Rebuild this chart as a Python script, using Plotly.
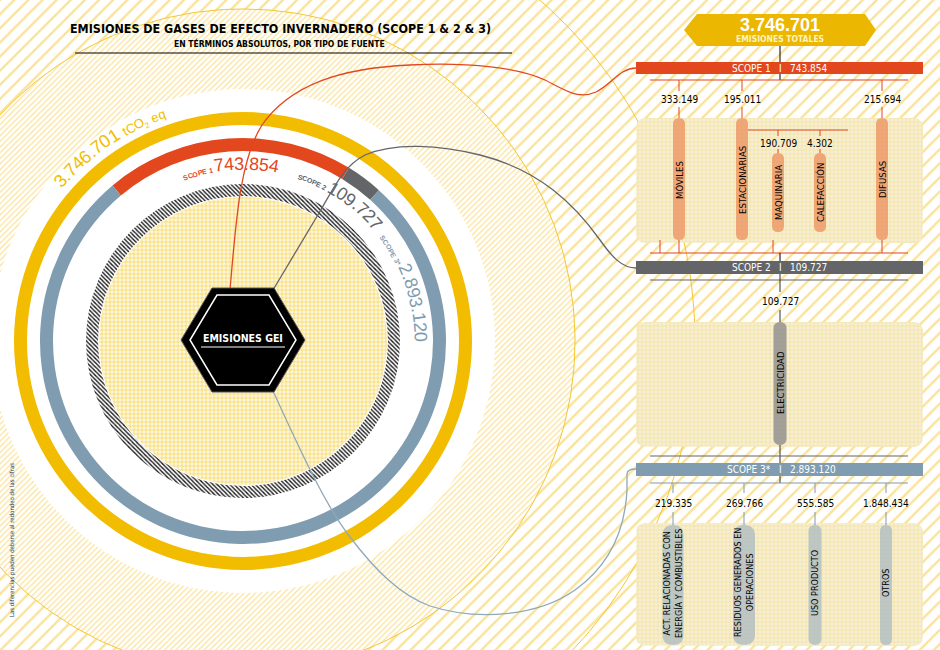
import numpy as np
import plotly.graph_objects as go

# ---------------- DATA ----------------
scope_names = ["SCOPE 1", "SCOPE 2", "SCOPE 3*"]
scope_values = [743854, 109727, 2893120]
scope1_sources = ["MÓVILES", "ESTACIONARIAS", "DIFUSAS"]
scope1_values = [333149, 195011, 215694]
stationary_sources = ["MAQUINARIA", "CALEFACCIÓN"]
stationary_values = [190709, 4302]
scope2_sources = ["ELECTRICIDAD"]
scope2_values = [109727]
scope3_sources = ["ACT. RELACIONADAS CON<br>ENERGÍA Y COMBUSTIBLES",
                  "RESIDUOS GENERADOS EN<br>OPERACIONES", "USO PRODUCTO", "OTROS"]
scope3_values = [219335, 269766, 555585, 1848434]
total_value = sum(scope_values)

title_text = "EMISIONES DE GASES DE EFECTO INVERNADERO (SCOPE 1 & 2 & 3)"
subtitle_text = "EN TÉRMINOS ABSOLUTOS, POR TIPO DE FUENTE"
center_text = "EMISIONES GEI"
unit_text = "tCO"
note_text = "Las diferencias pueden deberse al redondeo de las cifras"


def fmt(v):
    return f"{v:,}".replace(",", ".")


# ---------------- STYLE / LAYOUT CONSTANTS ----------------
W, H = 940, 650
RED, GRAY, BLUE, GOLD = "#e2471e", "#646569", "#7f9cb0", "#f2bd00"
STRIPE = "#f5c630"
COND = "Liberation Sans Narrow, DejaVu Sans Condensed, Roboto Condensed, Roboto, sans-serif"
ARIAL = "Liberation Sans, Arial, sans-serif"
CX, CY = 243, 341
R_YELLOW = (216, 229)
R_SCOPE = (190, 203)
R_HATCH = (145, 157)
R_WHITE, R_BAND, R_BIG = 252, 332, 452
SCOPE_START = -40

fig = go.Figure()


def circle_xy(r, n=361):
    t = np.linspace(0, 2 * np.pi, n)
    return CX + r * np.sin(t), CY - r * np.cos(t)


def rrect_pts(x0, y0, x1, y1, r, n=10):
    xs, ys = [], []
    corners = [(x1 - r, y0 + r, -90, 0), (x1 - r, y1 - r, 0, 90),
               (x0 + r, y1 - r, 90, 180), (x0 + r, y0 + r, 180, 270)]
    for cx, cy, a0, a1 in corners:
        for a in np.linspace(np.radians(a0), np.radians(a1), n):
            xs.append(cx + r * np.cos(a))
            ys.append(cy + r * np.sin(a))
    xs.append(xs[0]); ys.append(ys[0])
    return xs, ys


def bg_fill(x, y, pattern=None, fill="white", line=None):
    fig.add_trace(go.Scatter(
        x=x, y=y, mode="lines", fill="toself", fillcolor=fill,
        fillpattern=pattern,
        line=dict(width=line[1] if line else 0, color=line[0] if line else "rgba(0,0,0,0)"),
        hoverinfo="skip", showlegend=False))


# background coarse stripes
bg_fill([0, W, W, 0, 0], [0, 0, H, H, 0],
        pattern=dict(shape="/", fgcolor=STRIPE, bgcolor="white", size=10, solidity=0.24))
# big thin circle
bx, by = circle_xy(R_BIG)
fig.add_trace(go.Scatter(x=bx, y=by, mode="lines", line=dict(color=STRIPE, width=1),
                         hoverinfo="skip", showlegend=False))
# fine hatched band
fx, fy = circle_xy(R_BAND)
bg_fill(fx, fy, pattern=dict(shape="/", fgcolor=STRIPE, bgcolor="white", size=4, solidity=0.3),
        line=(STRIPE, 1))
# white disc behind rings
wx, wy = circle_xy(R_WHITE)
bg_fill(wx, wy, fill="white")

# right panels (dotted)
PANEL_X = (636, 923)
panels_y = [(118, 243), (322, 447), (523, 646)]
for (y0, y1) in panels_y:
    px, py = rrect_pts(PANEL_X[0], y0, PANEL_X[1], y1, 9)
    bg_fill(px, py, pattern=dict(shape="+", fgcolor="#f2d05a", bgcolor="#f6efd6", size=4, solidity=0.32))


# ---------------- RINGS (pies) ----------------
def ring_domain(r):
    return dict(x=[(CX - r) / W, (CX + r) / W], y=[(H - CY - r) / H, (H - CY + r) / H])


def ring(values, colors, r_in, r_out, rotation=0, pattern=None):
    fig.add_trace(go.Pie(
        values=values, sort=False, direction="clockwise", rotation=rotation,
        hole=r_in / r_out, domain=ring_domain(r_out), textinfo="none",
        hoverinfo="skip", showlegend=False,
        marker=dict(colors=colors, line=dict(width=0), pattern=pattern)))


ring([total_value], [GOLD], *R_YELLOW)
ring(scope_values, [RED, GRAY, BLUE], *R_SCOPE, rotation=SCOPE_START)
ring([total_value], ["white"], *R_HATCH,
     pattern=dict(shape="\\", fgcolor="#1a1a1a", bgcolor="white", size=3, solidity=0.45))
ring([total_value], ["#fdf2c8"], 0.0001, R_HATCH[0] - 1,
     pattern=dict(shape="+", fgcolor="#f5d24e", bgcolor="#fdf6dc", size=4, solidity=0.3))

shapes = []
annotations = []


def line(x0, y0, x1, y1, color, width=1.2):
    shapes.append(dict(type="line", x0=x0, y0=y0, x1=x1, y1=y1, xref="x", yref="y",
                       layer="above", line=dict(color=color, width=width)))


def rect(x0, y0, x1, y1, color):
    shapes.append(dict(type="rect", x0=x0, y0=y0, x1=x1, y1=y1, xref="x", yref="y",
                       layer="above", fillcolor=color, line=dict(width=0)))


def path(d, fill=None, color=None, width=0):
    shapes.append(dict(type="path", path=d, xref="x", yref="y", layer="above",
                       fillcolor=fill if fill else "rgba(0,0,0,0)",
                       line=dict(color=color if color else "rgba(0,0,0,0)", width=width)))


def text(x, y, s, size, color="black", family=COND, angle=0, xanchor="center", bold=False):
    annotations.append(dict(x=x, y=y, xref="x", yref="y", text=f"<b>{s}</b>" if bold else s,
                            showarrow=False, textangle=angle, xanchor=xanchor, yanchor="middle",
                            font=dict(size=size, color=color, family=family)))


def pill(xc, w, y0, y1, color):
    r = w / 2
    x0, x1 = xc - r, xc + r
    d = (f"M{x0},{y0 + r} Q{x0},{y0} {xc},{y0} Q{x1},{y0} {x1},{y0 + r} "
         f"L{x1},{y1 - r} Q{x1},{y1} {xc},{y1} Q{x0},{y1} {x0},{y1 - r} Z")
    path(d, fill=color)


# ---------------- ARC TEXT ----------------
CW = {d: 0.556 for d in "0123456789"}
CW.update({".": 0.278, " ": 0.278, "t": 0.278, "C": 0.722, "O": 0.778, "e": 0.556,
           "q": 0.556, "S": 0.667, "P": 0.667, "E": 0.667, "*": 0.389})


def arc_text(parts, r_base, start_deg, color):
    ang = np.radians(start_deg)
    for s, size, bold, shift in parts:
        for ch in s:
            w = CW.get(ch, 0.6) * size
            rc = r_base + 0.36 * size + shift
            a = ang + (w / 2) / rc
            x = CX + rc * np.sin(a)
            y = CY - rc * np.cos(a)
            if ch != " ":
                text(x, y, ch, size, color=color, family=ARIAL, angle=np.degrees(a), bold=bold)
            ang += w / rc


arc_text([(fmt(total_value) + " ", 18, False, 0), (unit_text, 13, False, 0),
          ("2", 8, False, -3), (" eq", 13, False, 0)], 236, -50, GOLD)
scope_starts = [-20, 18.5, 53]
scope_cols = [RED, GRAY, BLUE]
for nm, v, st, col in zip(scope_names, scope_values, scope_starts, scope_cols):
    arc_text([(nm + " ", 7, True, 0), (fmt(v), 18, False, 0)], 171, st, col)

# ---------------- CONNECTORS ----------------
path("M230,290 C236,220 240,160 262,125 C290,85 340,68 410,65 C470,62 520,68 545,80 "
     "C565,90 578,100 596,92 C612,84 620,68 636,68", color=RED, width=1.3)
path("M273,290 L322,208 C335,185 345,165 365,155 C395,142 440,145 480,155 "
     "C540,170 575,205 600,240 C612,257 622,268 636,268", color=GRAY, width=1.3)
path("M273,391 C300,450 325,505 350,537 C375,570 400,595 430,606 C480,622 540,615 575,590 "
     "C610,565 625,530 627,490 L627,474 Q627,469 636,469", color="#8fa9b8", width=1.3)

# ---------------- CENTER HEXAGON ----------------
path("M181,340 L212,288 L274,288 L305,340 L274,392 L212,392 Z", fill="black", color="#555", width=1)
path("M190,340 L217,295 L269,295 L296,340 L269,385 L217,385 Z", color="white", width=1.5)
text(243, 338, center_text, 10.5, color="white", bold=True)
line(201, 347, 285, 347, "white", 1)

# ---------------- TITLE ----------------
text(280, 28, title_text, 12.4, bold=True)
text(279, 43, subtitle_text, 8.5, bold=True)
line(75, 53, 512, 53, "black", 1.2)
text(12, 540, note_text, 6, color="#1d3557", angle=-90)

# ---------------- RIGHT SCHEME ----------------
MIDX = 780
LX0, LX1 = 650, 908
# total banner
path("M684,30 L697,14 L865,14 L876,30 L865,46 L697,46 Z", fill="#ebb700")
text(MIDX, 25, fmt(total_value), 18, color="white", family=ARIAL, bold=True)
text(MIDX, 39, "EMISIONES TOTALES", 8.5, color="#fdf3c0", bold=True)
line(MIDX, 46, MIDX, 62, "black", 1)

bars_y = [(62, 74), (261, 274), (463, 476)]
bar_cols = [RED, GRAY, BLUE]
for nm, v, (y0, y1), col in zip(scope_names, scope_values, bars_y, bar_cols):
    rect(PANEL_X[0], y0, PANEL_X[1], y1, col)
    ym = (y0 + y1) / 2
    text(773, ym, nm, 10, color="white", xanchor="right")
    text(MIDX, ym, "I", 10, color="white")
    text(788, ym, fmt(v), 10, color="white", xanchor="left")

# scope 1 branch
line(MIDX, 74, MIDX, 80, "black", 1)
line(LX0, 80, LX1, 80, RED, 1.2)
s1_x = [679, 742, 882]
for x, v in zip(s1_x, scope1_values):
    line(x, 80, x, 91, RED, 1)
    text(x, 99, fmt(v), 10)
    line(x, 107, x, 118, RED, 1)
line(748, 130, 848, 130, RED, 1.2)
sub_x = [778, 820]
for x, v in zip(sub_x, stationary_values):
    line(x, 130, x, 136, RED, 1)
    text(x, 143, fmt(v), 10)
    line(x, 149, x, 153, RED, 1)
for x in s1_x:
    pill(x, 12, 118, 240, "rgba(236,140,88,0.72)")
for x in sub_x:
    pill(x, 12, 153, 232, "rgba(236,140,88,0.72)")
for x, nm in zip(s1_x, scope1_sources):
    text(x, 180, nm, 9.5, angle=-90)
for x, nm in zip(sub_x, stationary_sources):
    text(x, 193, nm, 9.5, angle=-90)
line(LX0, 253, LX1, 253, RED, 1.2)
for x in [660, 679, 773, 882]:
    line(x, 240, x, 253, RED, 1)
line(MIDX, 253, MIDX, 261, "black", 1)

# scope 2 branch
line(LX0, 280, LX1, 280, GRAY, 1.2)
line(MIDX, 274, MIDX, 292, "#333", 1)
text(MIDX, 301, fmt(scope2_values[0]), 10)
line(MIDX, 310, MIDX, 322, "#333", 1)
pill(MIDX, 13, 322, 445, "rgba(140,140,140,0.8)")
text(MIDX, 383, scope2_sources[0], 9.5, angle=-90)
line(MIDX, 445, MIDX, 463, "#333", 1)
line(LX0, 456, LX1, 456, GRAY, 1.2)

# scope 3 branch
line(MIDX, 476, MIDX, 483, "#333", 1)
line(LX0, 483, LX1, 483, BLUE, 1.2)
s3_x = [673, 744, 815, 886]
s3_w = [21, 22, 13, 12]
for x, w, v, nm in zip(s3_x, s3_w, scope3_values, scope3_sources):
    line(x, 483, x, 493, BLUE, 1)
    text(x, 503, fmt(v), 10)
    line(x, 512, x, 525, BLUE, 1)
    pill(x, w, 525, 645, "rgba(165,183,192,0.7)")
    text(x, 583, nm, 9, angle=-90)

fig.update_layout(
    width=W, height=H, margin=dict(l=0, r=0, t=0, b=0),
    paper_bgcolor="white", plot_bgcolor="white", showlegend=False,
    shapes=shapes, annotations=annotations,
    xaxis=dict(range=[0, W], visible=False, fixedrange=True),
    yaxis=dict(range=[H, 0], visible=False, fixedrange=True),
)
fig.write_html("out.html", config={"displayModeBar": False},
               post_script="document.body.style.margin='0';")
